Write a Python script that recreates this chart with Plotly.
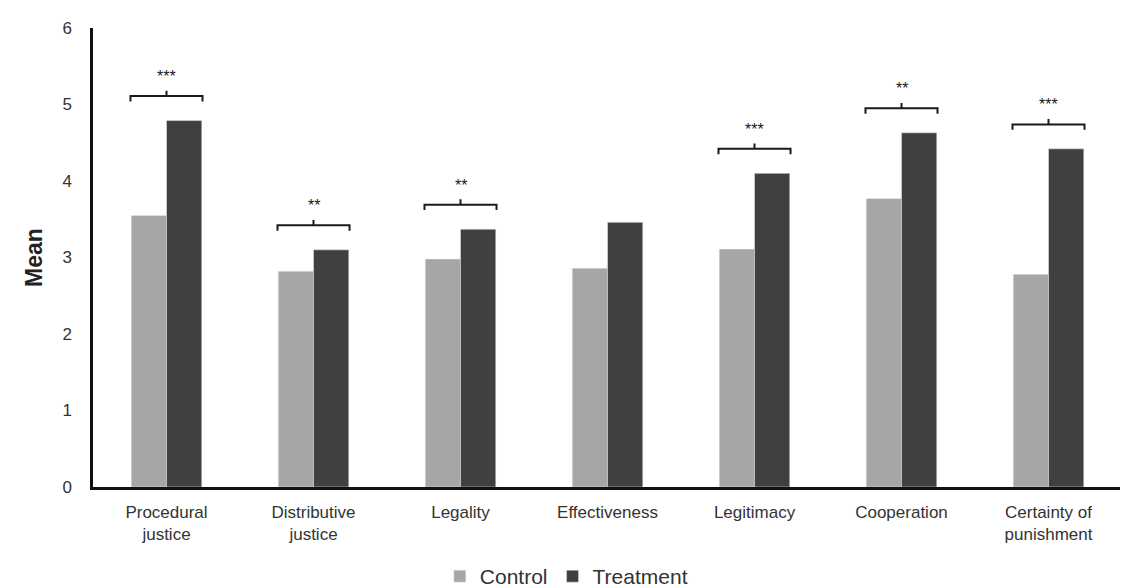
import plotly.graph_objects as go

categories = ["Procedural<br>justice", "Distributive<br>justice", "Legality", "Effectiveness",
              "Legitimacy", "Cooperation", "Certainty of<br>punishment"]
control = [3.55, 2.82, 2.98, 2.86, 3.11, 3.77, 2.78]
treatment = [4.79, 3.10, 3.37, 3.46, 4.10, 4.63, 4.42]
significance = ["***", "**", "**", "", "***", "**", "***"]
y_ticks = [0, 1, 2, 3, 4, 5, 6]

FONT = "Liberation Sans, Arial, sans-serif"

fig = go.Figure()
fig.add_trace(go.Bar(name="Control", x=categories, y=control, marker_color="#a6a6a6"))
fig.add_trace(go.Bar(name="Treatment", x=categories, y=treatment, marker_color="#404040"))

shapes = []
annotations = []
half = 0.245
tick = 0.07
for i, (c, t, s) in enumerate(zip(control, treatment, significance)):
    if not s:
        continue
    yb = max(c, t) + 0.32
    path = (f"M {i-half},{yb-tick} L {i-half},{yb} L {i+half},{yb} L {i+half},{yb-tick} "
            f"M {i},{yb} L {i},{yb+tick}")
    shapes.append(dict(type="path", xref="x", yref="y", path=path,
                       line=dict(color="#1a1a1a", width=2)))
    annotations.append(dict(x=i, y=yb + 0.12, xref="x", yref="y", text=s, showarrow=False,
                            yanchor="bottom", font=dict(size=16, color="#1a1a1a", family=FONT)))

fig.update_layout(
    width=1120, height=580,
    margin=dict(l=85, r=6, t=20, b=101, autoexpand=False),
    plot_bgcolor="white", paper_bgcolor="white",
    barmode="group", bargap=0.52, bargroupgap=0,
    font=dict(family=FONT, size=17, color="#333333"),
    shapes=shapes, annotations=annotations,
    legend=dict(orientation="h", x=0.46, xanchor="center", y=-0.195, yanchor="middle",
                font=dict(size=21, color="#333333"), itemwidth=30, traceorder="normal"),
    xaxis=dict(showline=True, linecolor="#111111", linewidth=2.5, ticks="", automargin=False,
               showgrid=False, ticklabelstandoff=8, tickfont=dict(size=17, color="#333333")),
    yaxis=dict(range=[0, 6], tickvals=y_ticks, showline=True, linecolor="#111111", linewidth=2.5,
               ticks="", showgrid=False, zeroline=False, ticklabelstandoff=15, automargin=False,
               tickfont=dict(size=17, color="#333333"),
               title=dict(text="<b>Mean</b>", font=dict(size=23, color="#222222"), standoff=14)),
)

fig.write_html("out.html")
